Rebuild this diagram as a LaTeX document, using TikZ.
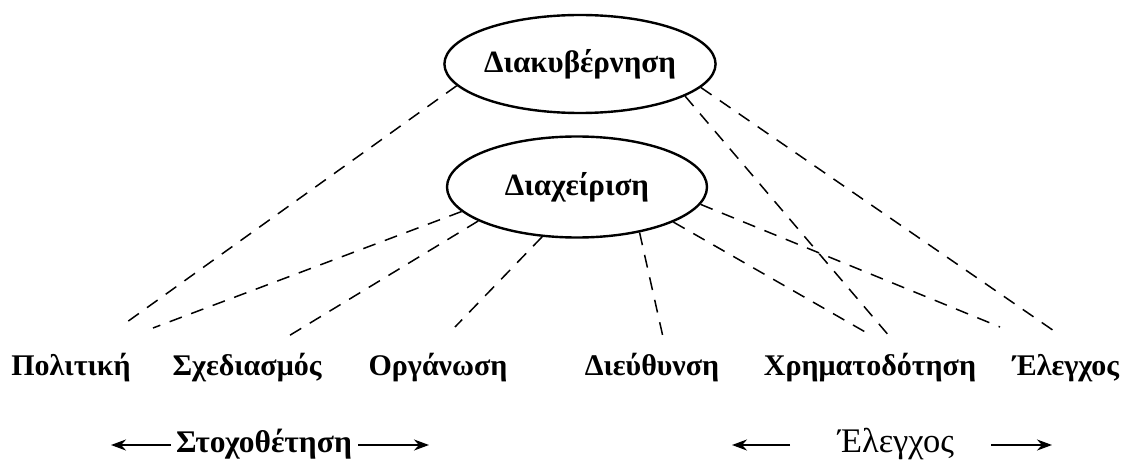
\documentclass[tikz,border=0pt]{standalone}
\usepackage{fontspec}
\setmainfont{Liberation Serif}
\usetikzlibrary{shapes.geometric,arrows.meta}
\tikzset{
  oval/.style={draw, ellipse, line width=2.4pt, inner sep=0pt, font=\bfseries\fontsize{31}{36}\selectfont},
  lbl/.style={inner sep=0pt, anchor=base, font=\bfseries\fontsize{30}{36}\selectfont},
  link/.style={line width=1.5pt, dash pattern=on 13pt off 10pt},
  bigbold/.style={inner sep=0pt, anchor=base, font=\bfseries\fontsize{31.5}{38}\selectfont},
  bigreg/.style={inner sep=0pt, anchor=base, font=\fontsize{34.5}{40}\selectfont},
  harrow/.style={line width=2pt, -{Stealth[length=15pt,width=11pt]}}
}
\begin{document}
\begin{tikzpicture}[x=1pt,y=-1pt]
\fill[white] (0,0) rectangle (1130,460);
\useasboundingbox (0,0) rectangle (1130,460);
% ellipses
\node[oval, minimum width=252pt, minimum height=98pt] (dk) at (580,64) {Διακυβέρνηση};
\node[oval, minimum width=260pt, minimum height=101pt] (dx) at (577,187) {Διαχείριση};
% labels
\node[lbl] (pol) at (71,375) {Πολιτική};
\node[lbl] (sx) at (247,375) {Σχεδιασμός};
\node[lbl] (org) at (438,375) {Οργάνωση};
\node[lbl] (die) at (652,375) {Διεύθυνση};
\node[lbl] (xr) at (870,375) {Χρηματοδότηση};
\node[lbl] (el) at (1066,375) {Έλεγχος};
% free ends of the links
\coordinate (polA) at (127,322);
\coordinate (polB) at (153,328);
\coordinate (sxA) at (287,337);
\coordinate (orgA) at (455,327);
\coordinate (dieA) at (663,337);
\coordinate (xrA) at (867,333);
\coordinate (xrB) at (890,337);
\coordinate (elA) at (1000,327);
\coordinate (elB) at (1057,333);
% links
\draw[link] (dk.190) -- (polA);
\draw[link] (dk.343) -- (xrB);
\draw[link] (dk.349) -- (elB);
\draw[link] (dx.192) -- (polB);
\draw[link] (dx.199) -- (sxA);
\draw[link] (dx.235) -- (orgA);
\draw[link] (dx.324) -- (dieA);
\draw[link] (dx.340) -- (xrA);
\draw[link] (dx.352) -- (elA);
% bottom row
\node[bigbold] (stx) at (264,452) {Στοχοθέτηση};
\node[bigreg] (elx) at (896,452) {Έλεγχος};
\coordinate (s1) at (171,445);
\coordinate (a1) at (111,445);
\coordinate (s2) at (358,445);
\coordinate (a2) at (429,445);
\coordinate (s3) at (790,445);
\coordinate (a3) at (732,445);
\coordinate (s4) at (991,445);
\coordinate (a4) at (1052,445);
\draw[harrow] (s1) -- (a1);
\draw[harrow] (s2) -- (a2);
\draw[harrow] (s3) -- (a3);
\draw[harrow] (s4) -- (a4);
\end{tikzpicture}
\end{document}
